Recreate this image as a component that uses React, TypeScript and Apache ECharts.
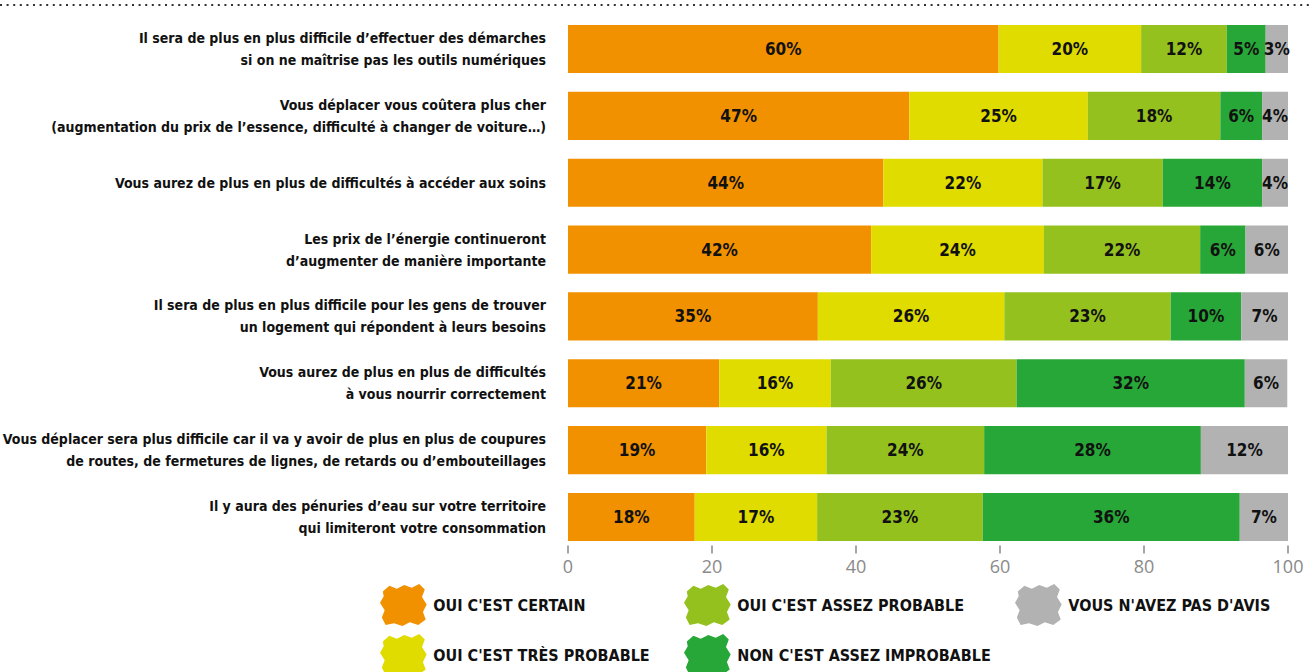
import React, { useEffect, useRef } from "react";
import * as echarts from "echarts";

const categories = [
  "Il sera de plus en plus difficile d’effectuer des démarches\nsi on ne maîtrise pas les outils numériques",
  "Vous déplacer vous coûtera plus cher\n(augmentation du prix de l’essence, difficulté à changer de voiture…)",
  "Vous aurez de plus en plus de difficultés à accéder aux soins",
  "Les prix de l’énergie continueront\nd’augmenter de manière importante",
  "Il sera de plus en plus difficile pour les gens de trouver\nun logement qui répondent à leurs besoins",
  "Vous aurez de plus en plus de difficultés\nà vous nourrir correctement",
  "Vous déplacer sera plus difficile car il va y avoir de plus en plus de coupures\nde routes, de fermetures de lignes, de retards ou d’embouteillages",
  "Il y aura des pénuries d’eau sur votre territoire\nqui limiteront votre consommation",
];

const seriesNames = [
  "OUI C'EST CERTAIN",
  "OUI C'EST TRÈS PROBABLE",
  "OUI C'EST ASSEZ PROBABLE",
  "NON C'EST ASSEZ IMPROBABLE",
  "VOUS N'AVEZ PAS D'AVIS",
];

// bar lengths
const certain = [59.8, 47.4, 43.8, 42.1, 34.7, 21.0, 19.2, 17.6];
const tresProbable = [19.8, 24.8, 22.1, 24.0, 25.9, 15.5, 16.7, 17.0];
const assezProbable = [11.9, 18.4, 16.7, 21.7, 23.1, 25.8, 21.9, 23.0];
const assezImprobable = [5.4, 5.8, 13.8, 6.3, 9.8, 31.7, 30.1, 35.7];
const pasDavis = [3.1, 3.6, 3.6, 5.9, 6.5, 5.9, 12.1, 6.7];

// percentages printed on the bars
const certainLbl = [60, 47, 44, 42, 35, 21, 19, 18];
const tresProbableLbl = [20, 25, 22, 24, 26, 16, 16, 17];
const assezProbableLbl = [12, 18, 17, 22, 23, 26, 24, 23];
const assezImprobableLbl = [5, 6, 14, 6, 10, 32, 28, 36];
const pasDavisLbl = [3, 4, 4, 6, 7, 6, 12, 7];

const xTicks = [0, 20, 40, 60, 80, 100];

const colors = ["#F29100", "#E0DC00", "#95C11F", "#27A737", "#B2B2B2"];

const FONT = "'Liberation Sans Narrow', 'DejaVu Sans Condensed', 'Roboto', sans-serif";

const scribble =
  "path://M3,8 L10,2 L18,5 L26,1 L34,4 L42,0 L48,6 L45,14 L50,22 L46,30 L49,38 L41,44 L32,41 L24,45 L15,42 L6,44 L2,36 L5,28 L0,20 L4,13 Z";

export default function App() {
  const ref = useRef<HTMLDivElement>(null);
  useEffect(() => {
    if (!ref.current) return;
    const chart = echarts.init(ref.current, null, { renderer: "svg" });
    const values = [certain, tresProbable, assezProbable, assezImprobable, pasDavis];
    const labels = [certainLbl, tresProbableLbl, assezProbableLbl, assezImprobableLbl, pasDavisLbl];
    const series = seriesNames.map((name, i) => ({
      name,
      type: "bar",
      stack: "total",
      barCategoryGap: "28%",
      itemStyle: { color: colors[i] },
      label: {
        show: true,
        position: "inside",
        color: "#111",
        fontFamily: FONT,
        fontWeight: "bold",
        fontSize: 17,
        formatter: (p: any) => labels[i][p.dataIndex] + "%",
      },
      data: values[i],
    }));
    const legendText = {
      color: "#111",
      fontFamily: FONT,
      fontWeight: "bold",
      fontSize: 16,
    };
    const mkLegend = (left: number, data: string[]) => ({
      orient: "vertical",
      left,
      top: 584,
      height: 120,
      padding: 0,
      itemWidth: 50,
      itemHeight: 42,
      itemGap: 8,
      icon: scribble,
      textStyle: legendText,
      data,
      selectedMode: false,
    });
    chart.setOption({
      animation: false,
      graphic: [
        {
          type: "line",
          shape: { x1: 0, y1: 5, x2: 1311, y2: 5 },
          style: { stroke: "#333", lineWidth: 2, lineDash: [2, 4.6] },
        },
      ],
      legend: [
        mkLegend(380, [seriesNames[0], seriesNames[1]]),
        mkLegend(684, [seriesNames[2], seriesNames[3]]),
        mkLegend(1015, [seriesNames[4]]),
      ],
      grid: {
        left: 568,
        right: 23,
        top: 15.6,
        bottom: 121.6,
        containLabel: false,
        outerBoundsMode: "none",
      },
      xAxis: {
        type: "value",
        min: 0,
        max: 100,
        interval: 20,
        offset: -5,
        splitLine: { show: false },
        axisLine: { show: false },
        axisTick: { show: true, length: 8, lineStyle: { color: "#888", width: 1.5 } },
        axisLabel: {
          color: "#8a8a8a",
          fontSize: 18,
          fontFamily: "Open Sans",
          margin: 12,
          formatter: (v: number) => (xTicks.includes(v) ? String(v) : ""),
        },
      },
      yAxis: {
        type: "category",
        inverse: true,
        data: categories,
        axisLine: { show: false },
        axisTick: { show: false },
        axisLabel: {
          color: "#111",
          fontFamily: FONT,
          fontWeight: "bold",
          fontSize: 14,
          lineHeight: 22,
          margin: 22,
          align: "right",
        },
      },
      series,
    });
    return () => chart.dispose();
  }, []);
  return (
    <div
      ref={ref}
      style={{ position: "fixed", left: 0, top: 0, width: 1311, height: 672, background: "#fff" }}
    />
  );
}
